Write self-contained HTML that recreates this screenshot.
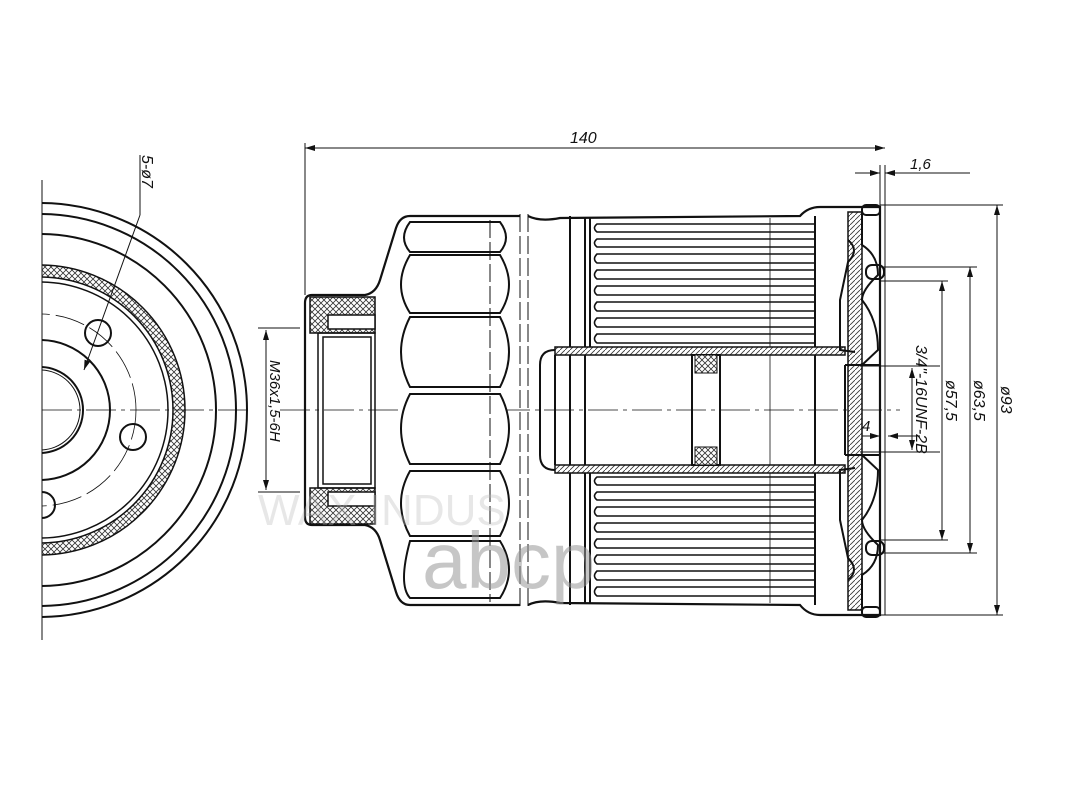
<!DOCTYPE html>
<html><head><meta charset="utf-8"><style>
html,body{margin:0;padding:0;background:#fff;}
svg{display:block}
text{font-family:"Liberation Sans",sans-serif;font-style:italic;fill:#111}
</style></head><body>
<svg width="1066" height="800" viewBox="0 0 1066 800" xmlns="http://www.w3.org/2000/svg">
<defs>
<pattern id="xh" width="6" height="6" patternUnits="userSpaceOnUse">
<rect width="6" height="6" fill="#fff"/>
<path d="M0,0L6,6M6,0L0,6" stroke="#333" stroke-width="0.8"/>
</pattern>
<pattern id="dh" width="5" height="5" patternUnits="userSpaceOnUse">
<rect width="5" height="5" fill="#fff"/>
<path d="M0,5L5,0" stroke="#333" stroke-width="0.8"/>
</pattern>
<clipPath id="lc"><rect x="42" y="150" width="260" height="500"/></clipPath>
<marker id="ar" viewBox="0 0 10 6" refX="10" refY="3" markerWidth="10" markerHeight="6" orient="auto-start-reverse"><path d="M0,0L10,3L0,6z" fill="#111"/></marker>
</defs>

<!-- LEFT END VIEW -->
<g clip-path="url(#lc)" fill="none" stroke="#111" stroke-width="2">
<circle cx="40" cy="410" r="207"/>
<circle cx="40" cy="410" r="196"/>
<circle cx="40" cy="410" r="176"/>
<circle cx="40" cy="410" r="139" stroke="url(#xh)" stroke-width="12"/>
<circle cx="40" cy="410" r="145" stroke-width="1.5"/>
<circle cx="40" cy="410" r="133" stroke-width="1.5"/>
<circle cx="40" cy="410" r="128" stroke-width="1.5"/>
<circle cx="40" cy="410" r="96" stroke-width="0.8" stroke-dasharray="30 6"/>
<circle cx="40" cy="410" r="70"/>
<circle cx="40" cy="410" r="43"/>
<circle cx="40" cy="410" r="40" stroke-width="1"/>
<circle cx="98" cy="333" r="13"/>
<circle cx="133" cy="437" r="13"/>
<circle cx="42" cy="505" r="13"/>
</g>
<g stroke="#111" stroke-width="1" fill="none">
<line x1="42" y1="180" x2="42" y2="640"/>
<line x1="42" y1="410" x2="250" y2="410" stroke-dasharray="30 5 4 5" stroke-width="0.8"/>
<line x1="140" y1="155" x2="140" y2="215"/>
<line x1="140" y1="215" x2="84" y2="370" marker-end="url(#ar)"/>
<line x1="258" y1="328" x2="300" y2="328"/>
<line x1="258" y1="492" x2="300" y2="492"/>
<line x1="266" y1="330" x2="266" y2="490" marker-start="url(#ar)" marker-end="url(#ar)"/>
</g>
<text transform="translate(142,155) rotate(90)" font-size="16">5-ø7</text>
<text transform="translate(270,360) rotate(90)" font-size="15">M36x1,5-6H</text>

<line x1="280" y1="410" x2="900" y2="410" stroke="#111" stroke-width="0.8" stroke-dasharray="30 5 4 5"/>

<!-- BODY -->
<g fill="none" stroke="#111" stroke-width="2.2">
<path d="M520,216 L410,216 Q400,216 396,228 L380,280 Q376,293 365,295 L312,295 Q305,295 305,303 L305,517 Q305,525 312,525 L365,525 Q376,527 380,540 L396,592 Q400,605 410,605 L520,605"/>
<path d="M528,216 Q540,222 560,218 L800,216 Q808,207 820,207 L880,207 L880,615 L820,615 Q808,615 800,605 L560,603 Q540,599 528,605"/>
</g>
<rect x="310" y="297" width="65" height="36" fill="url(#xh)" stroke="#111" stroke-width="1.5"/>
<rect x="310" y="488" width="65" height="36" fill="url(#xh)" stroke="#111" stroke-width="1.5"/>
<rect x="328" y="315" width="47" height="14" fill="#fff" stroke="#111" stroke-width="1.5"/>
<rect x="328" y="492" width="47" height="14" fill="#fff" stroke="#111" stroke-width="1.5"/>
<g fill="none" stroke="#111" stroke-width="1.5">
<rect x="318" y="333" width="57" height="155"/>
<rect x="323" y="337" width="48" height="147"/>
</g>
<g fill="#fff" stroke="#111" stroke-width="2">
<path d="M410,222 L500,222 Q512,238 500,252 L410,252 Q398,238 410,222z"/>
<path d="M410,255 L500,255 Q518,285 500,313 L410,313 Q392,285 410,255z"/>
<path d="M410,317 L500,317 Q518,352 500,387 L410,387 Q392,352 410,317z"/>
<path d="M410,394 L500,394 Q518,428 500,464 L410,464 Q392,428 410,394z"/>
<path d="M410,471 L500,471 Q518,503 500,536 L410,536 Q392,503 410,471z"/>
<path d="M410,541 L500,541 Q518,570 500,598 L410,598 Q398,585 410,541z"/>
</g>
<g stroke="#111" stroke-width="1" stroke-dasharray="18 4">
<line x1="490" y1="220" x2="490" y2="602"/>
<line x1="520" y1="214" x2="520" y2="610"/>
<line x1="528" y1="214" x2="528" y2="610"/>
</g>

<g fill="none" stroke="#111" stroke-width="2">
<line x1="570" y1="216" x2="570" y2="605"/>
<line x1="585" y1="218" x2="585" y2="603"/>
<line x1="590" y1="218" x2="590" y2="350"/>
<line x1="590" y1="470" x2="590" y2="603"/>
<line x1="815" y1="216" x2="815" y2="605"/>
</g>
<g fill="none" stroke="#111" stroke-width="1.6">
<path d="M815,224 H597 Q592,228 597,232 H815"/>
<path d="M815,239 H597 Q592,243 597,247 H815"/>
<path d="M815,254 H597 Q592,259 597,263 H815"/>
<path d="M815,270 H597 Q592,275 597,279 H815"/>
<path d="M815,286 H597 Q592,291 597,295 H815"/>
<path d="M815,302 H597 Q592,307 597,311 H815"/>
<path d="M815,318 H597 Q592,323 597,327 H815"/>
<path d="M815,334 H597 Q592,339 597,343 H815"/>
<path d="M815,477 H597 Q592,481 597,485 H815"/>
<path d="M815,492 H597 Q592,496 597,500 H815"/>
<path d="M815,507 H597 Q592,512 597,516 H815"/>
<path d="M815,523 H597 Q592,528 597,532 H815"/>
<path d="M815,539 H597 Q592,544 597,548 H815"/>
<path d="M815,555 H597 Q592,560 597,564 H815"/>
<path d="M815,571 H597 Q592,576 597,580 H815"/>
<path d="M815,587 H597 Q592,592 597,596 H815"/>
</g>
<line x1="770" y1="218" x2="770" y2="603" stroke="#111" stroke-width="0.8"/>

<rect x="555" y="347" width="290" height="8" fill="url(#dh)" stroke="#111" stroke-width="1.5"/>
<rect x="555" y="465" width="290" height="8" fill="url(#dh)" stroke="#111" stroke-width="1.5"/>
<g fill="none" stroke="#111" stroke-width="2">
<line x1="555" y1="355" x2="555" y2="465"/>
<path d="M555,350 Q540,350 540,365 L540,455 Q540,470 555,470"/>
<rect x="692" y="355" width="28" height="110"/>
</g>
<rect x="695" y="355" width="22" height="18" fill="url(#xh)" stroke="#111"/>
<rect x="695" y="447" width="22" height="18" fill="url(#xh)" stroke="#111"/>

<rect x="848" y="212" width="14" height="398" fill="url(#dh)" stroke="#111" stroke-width="1.5"/>
<g fill="none" stroke="#111" stroke-width="2">
<path d="M862,212 L862,245 Q878,255 878,275 Q862,290 862,300 Q878,320 878,350 L862,365"/>
<path d="M862,608 L862,575 Q878,565 878,545 Q862,530 862,520 Q878,500 878,470 L862,455"/>
<path d="M848,240 Q860,250 848,262 L840,300 L840,350 L855,352"/>
<path d="M848,580 Q860,570 848,558 L840,520 L840,470 L855,468"/>
<path d="M845,365 L845,455"/>
<path d="M845,365 L880,365 M845,455 L880,455"/>
<rect x="862" y="205" width="18" height="10" rx="4"/>
<rect x="862" y="607" width="18" height="10" rx="4"/>
<rect x="866" y="265" width="18" height="14" rx="6"/>
<rect x="866" y="541" width="18" height="14" rx="6"/>
</g>
<g stroke="#111" stroke-width="1" fill="none">
<line x1="885" y1="165" x2="885" y2="615"/>
<line x1="880" y1="165" x2="880" y2="210"/>
<line x1="860" y1="366" x2="940" y2="366"/>
<line x1="860" y1="452" x2="940" y2="452"/>
<line x1="862" y1="436" x2="880" y2="436" marker-end="url(#ar)"/>
<line x1="920" y1="436" x2="888" y2="436" marker-end="url(#ar)"/>
</g>
<text x="862" y="431" font-size="15">4</text>

<g stroke="#111" stroke-width="1" fill="none">
<line x1="305" y1="143" x2="305" y2="295"/>
<line x1="305" y1="148" x2="885" y2="148" marker-start="url(#ar)" marker-end="url(#ar)"/>
<line x1="855" y1="173" x2="880" y2="173" marker-end="url(#ar)"/>
<line x1="905" y1="173" x2="885" y2="173" marker-end="url(#ar)"/>
<line x1="905" y1="173" x2="970" y2="173"/>
<line x1="880" y1="205" x2="1003" y2="205"/>
<line x1="880" y1="615" x2="1003" y2="615"/>
<line x1="997" y1="205" x2="997" y2="615" marker-start="url(#ar)" marker-end="url(#ar)"/>
<line x1="880" y1="267" x2="977" y2="267"/>
<line x1="880" y1="553" x2="977" y2="553"/>
<line x1="970" y1="267" x2="970" y2="553" marker-start="url(#ar)" marker-end="url(#ar)"/>
<line x1="880" y1="281" x2="948" y2="281"/>
<line x1="880" y1="540" x2="948" y2="540"/>
<line x1="942" y1="281" x2="942" y2="540" marker-start="url(#ar)" marker-end="url(#ar)"/>
<line x1="912" y1="368" x2="912" y2="450" marker-start="url(#ar)" marker-end="url(#ar)"/>
</g>
<text x="570" y="143" font-size="16">140</text>
<text x="910" y="169" font-size="15">1,6</text>
<text transform="translate(1001,386) rotate(90)" font-size="16">ø93</text>
<text transform="translate(974,380) rotate(90)" font-size="16">ø63,5</text>
<text transform="translate(946,380) rotate(90)" font-size="16">ø57,5</text>
<text transform="translate(916,345) rotate(90)" font-size="16">3/4"-16UNF-2B</text>

<!-- watermark on top -->
<text x="258" y="525" font-size="44" style="font-style:normal;fill:#bbb" opacity="0.35">WAX INDUS</text>
<text x="422" y="588" font-size="80" style="font-style:normal;fill:#999" opacity="0.55">abcp</text>
</svg>
</body></html>
